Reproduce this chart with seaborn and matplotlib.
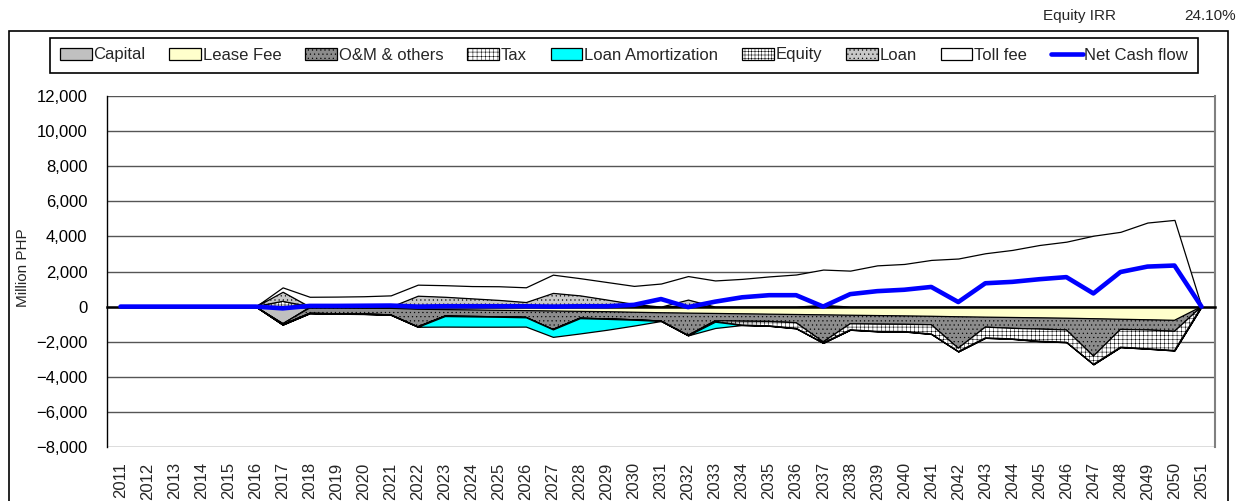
import numpy as np
import matplotlib
matplotlib.use("Agg")
import matplotlib.pyplot as plt
import seaborn as sns
from matplotlib.patches import Patch, Rectangle
from matplotlib.lines import Line2D
from matplotlib.ticker import FuncFormatter, MultipleLocator

# ---------------- data (Million PHP) ----------------
years = list(range(2011, 2052))

capital = [0, 0, 0, 0, 0, 0, -950, 0, 0, 0, 0, 0, 0, 0, 0, 0, 0, 0, 0, 0, 0,
           0, 0, 0, 0, 0, 0, 0, 0, 0, 0, 0, 0, 0, 0, 0, 0, 0, 0, 0, 0]
lease_fee = [0, 0, 0, 0, 0, 0, -20, -80, -80, -90, -100, -150, -170, -190, -210, -230,
             -250, -270, -290, -320, -350, -370, -390, -410, -430, -450, -470, -490,
             -510, -530, -550, -580, -600, -620, -640, -660, -690, -720, -750, -780, 0]
om_others = [0, 0, 0, 0, 0, 0, -60, -300, -330, -330, -370, -1000, -370, -370, -370, -380,
             -1050, -390, -410, -430, -470, -1270, -420, -420, -415, -470, -1540, -490,
             -490, -480, -480, -1790, -570, -620, -640, -670, -2130, -580, -580, -630, 0]
tax = [0, 0, 0, 0, 0, 0, 0, 0, 0, 0, 0, 0, 0, 0, 0, 0, 0, 0, 0, 0, 0, 0,
       -50, -220, -250, -320, -60, -340, -410, -410, -530, -190, -610, -600, -690, -700,
       -470, -1010, -1070, -1090, 0]
loan_amort = [0, 0, 0, 0, 0, 0, 0, 0, 0, 0, 0, 0, -600, -585, -565, -530, -425, -870, -620,
              -330, 0, 0, -360, 0, 0, 0, 0, 0, 0, 0, 0, 0, 0, 0, 0, 0, 0, 0, 0, 0, 0]
equity = [0, 0, 0, 0, 0, 0, 300, 0, 0, 0, 0, 0, 0, 0, 0, 0, 0, 0, 0, 0, 0,
          0, 0, 0, 0, 0, 0, 0, 0, 0, 0, 0, 0, 0, 0, 0, 0, 0, 0, 0, 0]
loan = [0, 0, 0, 0, 0, 0, 545, 0, 0, 0, 0, 620, 560, 470, 380, 260, 780, 640, 400, 150, 0,
        400, 0, 0, 0, 0, 100, 0, 0, 0, 0, 0, 0, 0, 0, 0, 0, 0, 0, 0, 0]
toll_fee = [0, 0, 0, 0, 0, 0, 250, 560, 570, 590, 640, 630, 660, 700, 780, 840, 1040, 980,
            1000, 1030, 1315, 1340, 1490, 1580, 1720, 1830, 2010, 2050, 2350, 2430, 2660,
            2740, 3040, 3230, 3510, 3700, 4040, 4260, 4790, 4940, 0]
net_cash_flow = [0, 0, 0, 0, 0, 0, -100, 40, 40, 50, 60, 0, 20, 20, 20, 20, 0, 20, 20, 100,
                 430, -30, 280, 530, 650, 650, 0, 710, 880, 960, 1120, 260, 1330, 1410, 1560,
                 1680, 750, 1970, 2280, 2340, 0]

equity_irr_label = "Equity IRR"
equity_irr_value = "24.10%"

# ---------------- style ----------------
sns.set_style("white")
plt.rcParams["font.family"] = ["Liberation Sans", "DejaVu Sans"]
plt.rcParams["hatch.linewidth"] = 0.35

fig = plt.figure(figsize=(12.48, 5.01), dpi=100)
W, H = 1248, 501
ax = fig.add_axes([107 / W, 1 - 447 / H, (1215 - 107) / W, (447 - 96) / H])

x = np.array(years, dtype=float)

neg_series = [
    ("Capital", capital, "#C0C0C0", None),
    ("Lease Fee", lease_fee, "#FFFFCC", None),
    ("O&M & others", om_others, "#8C8C8C", "...."),
    ("Tax", tax, "white", "++++"),
    ("Loan Amortization", loan_amort, "#00FFFF", None),
]
pos_series = [
    ("Equity", equity, "white", "+++++"),
    ("Loan", loan, "#C8C8C8", "...."),
    ("Toll fee", toll_fee, "white", None),
]

style = {}
base = np.zeros(len(years))
for name, vals, fc, h in neg_series:
    top = base + np.array(vals, dtype=float)
    ax.fill_between(x, base, top, facecolor=fc, edgecolor="black", hatch=h,
                    linewidth=0.9, zorder=2)
    style[name] = (fc, h)
    base = top

base = np.zeros(len(years))
for name, vals, fc, h in pos_series:
    top = base + np.array(vals, dtype=float)
    ax.fill_between(x, base, top, facecolor=fc, edgecolor="black", hatch=h,
                    linewidth=0.9, zorder=2)
    style[name] = (fc, h)
    base = top

sns.lineplot(x=years, y=net_cash_flow, color="#0000FF", linewidth=3.3, ax=ax,
             zorder=6, legend=False)

# ---------------- axes ----------------
ax.set_xlim(2010.5, 2051.5)
ax.set_ylim(-8000, 12000)
ax.yaxis.set_major_locator(MultipleLocator(2000))
ax.yaxis.set_major_formatter(FuncFormatter(lambda v, p: f"{v:,.0f}".replace("-", "\u2212")))
ax.grid(axis="y", color="#555555", linewidth=1.0)
ax.grid(axis="x", visible=False)
ax.set_axisbelow(True)
ax.tick_params(axis="y", length=0, pad=14, labelsize=12, colors="black")

ax.spines["bottom"].set_position(("data", 0))
ax.spines["bottom"].set_color("black")
ax.spines["bottom"].set_linewidth(1.8)
ax.spines["bottom"].set_zorder(5)
ax.spines["top"].set_visible(False)
ax.spines["left"].set_color("black")
ax.spines["left"].set_linewidth(1.0)
ax.spines["right"].set_color("#808080")
ax.spines["right"].set_linewidth(1.5)

ax.set_xticks(np.arange(2010.5, 2052, 1.0))
ax.tick_params(axis="x", direction="in", length=4, width=1, color="black",
               labelbottom=False)
ax.set_xlabel("")

sec = ax.secondary_xaxis("bottom")
sec.set_xticks(years)
sec.set_xticklabels([str(y) for y in years], rotation=90, fontsize=12)
sec.tick_params(length=0, pad=11)
sec.spines["bottom"].set_visible(False)

ax.set_ylabel("Million PHP", fontsize=11)
ax.yaxis.set_label_coords(-0.0695, 0.51)

# ---------------- legend ----------------
handles, labels = [], []
for name in ["Capital", "Lease Fee", "O&M & others", "Tax", "Loan Amortization",
             "Equity", "Loan", "Toll fee"]:
    fc, h = style[name]
    handles.append(Patch(facecolor=fc, edgecolor="black", hatch=h, linewidth=0.9))
    labels.append(name)
handles.append(Line2D([0], [0], color="#0000FF", linewidth=3.3))
labels.append("Net Cash flow")

leg = fig.legend(handles, labels, loc="center",
                 bbox_to_anchor=(50 / W, 1 - 75 / H, 1148 / W, 40 / H),
                 mode="expand", ncol=9, frameon=True, fancybox=False,
                 edgecolor="black", fontsize=12, handlelength=1.9,
                 handleheight=0.75, handletextpad=0.1, borderpad=0.6,
                 borderaxespad=0, columnspacing=1.0, framealpha=1)
leg.get_frame().set_linewidth(1.2)

# ---------------- chart-area border and IRR text ----------------
fig.add_artist(Rectangle((9 / W, -0.05), (1228 - 9) / W, (1 - 31 / H) + 0.05,
                         transform=fig.transFigure, fill=False,
                         edgecolor="black", linewidth=1.2))
fig.text(1043 / W, 1 - 16 / H, equity_irr_label, fontsize=11, va="center", ha="left")
fig.text(1236 / W, 1 - 16 / H, equity_irr_value, fontsize=11, va="center", ha="right")

fig.savefig("out.png", dpi=100)
